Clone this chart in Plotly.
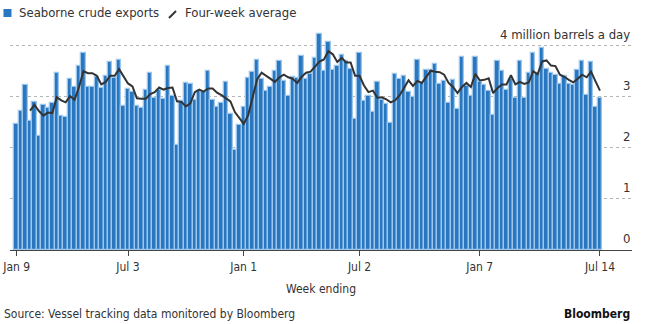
import plotly.graph_objects as go
import pandas as pd

# Weekly seaborne crude exports (million barrels a day), week ending Jan 9 2022 ... Jul 14 2024
exports = [
    2.46, 2.73, 3.22, 2.52, 2.90, 2.24, 2.84, 2.77, 2.88, 3.46,
    2.62, 2.60, 3.35, 3.20, 3.61, 3.85, 3.19, 3.20, 3.38, 3.17,
    3.40, 3.68, 3.37, 3.71, 2.82, 3.15, 3.10, 2.82, 2.77, 3.13,
    3.47, 2.98, 3.14, 2.96, 3.60, 3.01, 2.05, 2.92, 3.26, 3.25,
    2.94, 3.11, 3.10, 3.50, 2.93, 2.80, 2.88, 3.28, 2.67, 1.96,
    2.45, 2.80, 3.36, 3.48, 3.71, 3.34, 3.12, 3.20, 3.51, 3.70,
    3.31, 3.01, 3.38, 3.36, 3.80, 3.34, 3.44, 3.76, 4.22, 3.51,
    4.07, 3.53, 3.61, 3.82, 3.70, 3.54, 2.56, 3.85, 2.92, 3.01,
    2.71, 3.29, 2.94, 2.85, 2.49, 3.44, 3.34, 3.40, 3.10, 3.00,
    3.72, 3.26, 3.52, 3.53, 3.64, 3.24, 3.31, 2.88, 3.33, 2.75,
    3.78, 3.21, 3.01, 3.78, 3.29, 3.23, 3.12, 2.64, 3.69, 3.50,
    3.14, 3.35, 2.97, 3.70, 2.97, 3.47, 3.85, 3.47, 3.95, 3.55,
    3.47, 3.43, 3.25, 3.40, 3.25, 3.23, 3.53, 3.70, 3.04, 3.67,
    2.79, 2.98,
]

# Four-week average line (starts at the 4th week)
four_week_avg = [
    2.73, 2.84, 2.72, 2.63, 2.69, 2.68, 2.99, 2.93, 2.89, 3.01,
    2.94, 3.19, 3.50, 3.46, 3.46, 3.41, 3.24, 3.29, 3.41, 3.41,
    3.54, 3.40, 3.26, 3.20, 2.97, 2.96, 2.96, 3.05, 3.09, 3.18,
    3.14, 3.17, 3.18, 2.91, 2.90, 2.81, 2.87, 3.09, 3.14, 3.10,
    3.16, 3.16, 3.08, 3.03, 2.97, 2.91, 2.70, 2.59, 2.47, 2.64,
    3.02, 3.34, 3.47, 3.41, 3.34, 3.29, 3.38, 3.43, 3.38, 3.35,
    3.27, 3.39, 3.47, 3.49, 3.59, 3.69, 3.73, 3.89, 3.83, 3.68,
    3.76, 3.67, 3.67, 3.41, 3.41, 3.22, 3.09, 3.12, 2.98, 2.99,
    2.95, 2.89, 2.93, 3.03, 3.17, 3.32, 3.21, 3.31, 3.27, 3.38,
    3.51, 3.49, 3.48, 3.43, 3.27, 3.19, 3.07, 3.19, 3.27, 3.19,
    3.45, 3.32, 3.33, 3.36, 3.07, 3.17, 3.24, 3.24, 3.42, 3.24,
    3.29, 3.25, 3.28, 3.50, 3.44, 3.69, 3.71, 3.61, 3.60, 3.43,
    3.39, 3.33, 3.28, 3.35, 3.43, 3.38, 3.49, 3.30, 3.12,
]

first_week = "2022-01-09"
x_tick_dates = ["2022-01-09", "2022-07-03", "2023-01-01", "2023-07-02", "2024-01-07", "2024-07-14"]
x_tick_labels = ["Jan 9", "Jul 3", "Jan 1", "Jul 2", "Jan 7", "Jul 14"]
y_tick_values = [0, 1, 2, 3, 4]
y_tick_labels = ["0", "1", "2", "3", "4 million barrels a day"]
series_names = ["Seaborne crude exports", "Four-week average"]

weeks = pd.date_range(first_week, periods=len(exports), freq="7D")
avg_weeks = weeks[len(exports) - len(four_week_avg):]

FONT = "DejaVu Sans Condensed, DejaVu Sans, sans-serif"
TXT = "#333333"
BAR = "#2a77c1"
LINE = "#333333"

fig = go.Figure()
fig.add_trace(go.Bar(
    x=weeks, y=exports, name=series_names[0],
    marker=dict(color=BAR, line=dict(color="#9cc6ec", width=1.3)),
))
fig.add_trace(go.Scatter(
    x=avg_weeks, y=four_week_avg, name=series_names[1], mode="lines",
    line=dict(color=LINE, width=2),
))

# y-axis labels sitting just above their gridlines, inside the plot on the right
annotations = [
    dict(text=lbl, xref="paper", yref="y", x=1.0, y=v,
         xanchor="right", yanchor="bottom", yshift=2, showarrow=False,
         font=dict(family=FONT, size=13, color=TXT))
    for v, lbl in zip(y_tick_values, y_tick_labels)
]

# legend (drawn as text + key marks to match the original header row)
annotations += [
    dict(text=series_names[0], xref="paper", yref="paper", x=0.0108, y=1.0676,
         xanchor="left", yanchor="middle", showarrow=False,
         font=dict(family=FONT, size=13, color=TXT)),
    dict(text=series_names[1], xref="paper", yref="paper", x=0.2777, y=1.0676,
         xanchor="left", yanchor="middle", showarrow=False,
         font=dict(family=FONT, size=13, color=TXT)),
    dict(text="Source: Vessel tracking data monitored by Bloomberg",
         xref="paper", yref="paper", x=-0.013, y=-0.29,
         xanchor="left", yanchor="middle", showarrow=False,
         font=dict(family=FONT, size=12, color=TXT)),
    dict(text="<b>Bloomberg</b>",
         xref="paper", yref="paper", x=1.0, y=-0.29,
         xanchor="right", yanchor="middle", showarrow=False,
         font=dict(family=FONT, size=12, color="#111111")),
]

shapes = [
    dict(type="rect", xref="paper", yref="paper",
         x0=-0.0105, x1=0.0024, y0=1.0495, y1=1.0856,
         fillcolor=BAR, line=dict(width=0)),
    dict(type="line", xref="paper", yref="paper",
         x0=0.2556, x1=0.2669, y0=1.045, y1=1.0766,
         line=dict(color=LINE, width=2)),
]

fig.update_layout(
    width=645, height=324,
    margin=dict(l=10, r=13, t=28, b=74, autoexpand=False),
    paper_bgcolor="white", plot_bgcolor="white",
    bargap=0,
    font=dict(family=FONT, size=12, color=TXT),
    showlegend=False,
    xaxis=dict(
        type="date", automargin=False,
        range=["2021-12-29 12:00", "2024-09-02 08:00"],
        tickvals=x_tick_dates, ticktext=x_tick_labels,
        ticks="outside", ticklen=5, tickcolor="#444444", tickwidth=1,
        showline=True, linecolor="#444444", linewidth=1.2,
        showgrid=False, zeroline=False,
        tickfont=dict(family=FONT, size=12, color=TXT),
        title=dict(text="Week ending", standoff=12, font=dict(family=FONT, size=12, color=TXT)),
    ),
    yaxis=dict(
        range=[0, 4.345], side="right", automargin=False,
        tickvals=y_tick_values, showticklabels=False, ticks="",
        showgrid=True, gridcolor="#b5b5b5", griddash="dot", gridwidth=1,
        zeroline=False, showline=False,
    ),
    annotations=annotations,
    shapes=shapes,
)

fig.write_html("out.html")
